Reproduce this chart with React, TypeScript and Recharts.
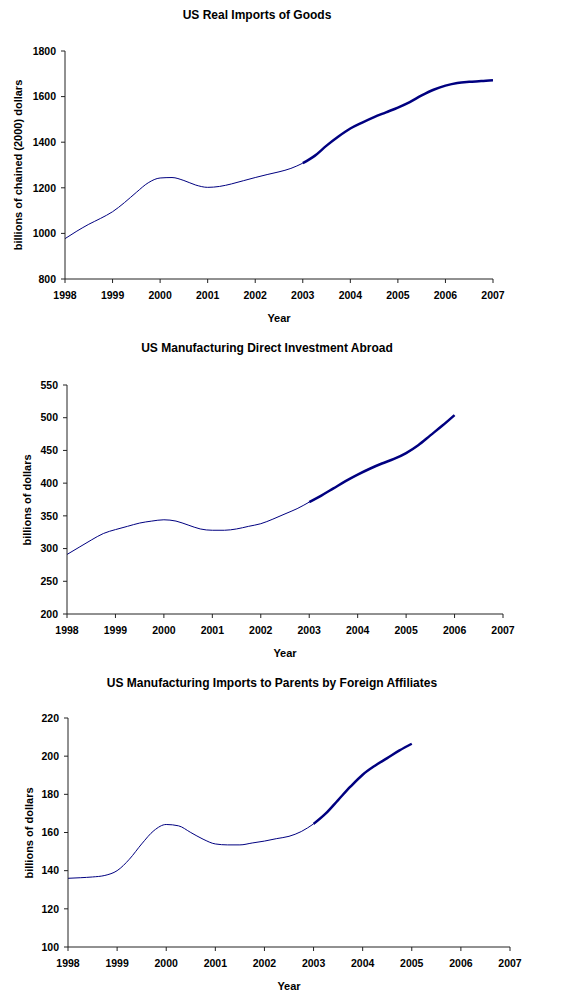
import { LineChart, Line, XAxis, YAxis } from "recharts";

// quarterly points, 1998.0 .. 2007.0
const quarters = [
  1998, 1998.25, 1998.5, 1998.75, 1999, 1999.25, 1999.5, 1999.75,
  2000, 2000.25, 2000.5, 2000.75, 2001, 2001.25, 2001.5, 2001.75,
  2002, 2002.25, 2002.5, 2002.75, 2003, 2003.25, 2003.5, 2003.75,
  2004, 2004.25, 2004.5, 2004.75, 2005, 2005.25, 2005.5, 2005.75,
  2006, 2006.25, 2006.5, 2006.75, 2007,
];

const years = [1998, 1999, 2000, 2001, 2002, 2003, 2004, 2005, 2006, 2007];

const realImports = [
  977, 1010, 1040, 1066, 1095, 1135, 1180, 1222,
  1243, 1245, 1232, 1212, 1202, 1206, 1217, 1231,
  1245, 1258, 1270, 1285, 1308, 1340, 1385, 1425,
  1460, 1486, 1510, 1531, 1552, 1576, 1605, 1630,
  1648, 1660, 1665, 1668, 1672,
];

const directInvestment = [
  291, 302, 313, 323, 329, 334, 339, 342,
  344, 342, 336, 330, 328, 328, 330, 334,
  338, 345, 353, 361, 371, 381, 392, 403,
  413, 422, 430, 437, 446, 458, 473, 488,
  504,
];

const affiliateImports = [
  136, 136.3, 136.7, 137.5, 140, 146, 154, 161,
  164.2, 163.5, 160, 156.5, 154, 153.5, 153.5, 154.5,
  155.5, 156.8, 158, 160.5, 164.5, 170, 177, 184,
  190.3, 195, 199, 203, 206.5,
];

const importTicks = [800, 1000, 1200, 1400, 1600, 1800];
const investmentTicks = [200, 250, 300, 350, 400, 450, 500, 550];
const affiliateTicks = [100, 120, 140, 160, 180, 200, 220];

const SPLIT = 2003;

function buildRows(values: number[]) {
  return values.map((v, i) => {
    const q = quarters[i];
    return {
      q,
      early: q <= SPLIT ? v : null,
      late: q >= SPLIT ? v : null,
    };
  });
}

const FONT = "'Liberation Sans', Arial, sans-serif";
const NAVY = "#000080";
const AXIS = "#222";

type PanelProps = {
  top: number;
  height: number;
  title: string;
  titleX: number;
  titleY: number;
  yLabel: string;
  yLabelX: number;
  values: number[];
  yTicks: number[];
  plotTop: number;
  plotBottom: number;
  plotLeft: number;
  plotRight: number;
  yearY: number;
};

function Panel(p: PanelProps) {
  const data = buildRows(p.values);
  const yAxisWidth = 50;
  const xAxisHeight = 30;
  const plotMid = (p.plotTop + p.plotBottom) / 2;
  const tickStyle = { fill: "#000", fontSize: 10.5, fontWeight: 700, fontFamily: FONT };
  return (
    <div style={{ position: "absolute", left: 0, top: p.top, width: 567, height: p.height }}>
      <div
        style={{
          position: "absolute",
          left: p.titleX - 250,
          width: 500,
          top: p.titleY - 8,
          textAlign: "center",
          fontFamily: FONT,
          fontWeight: 700,
          fontSize: 12,
          lineHeight: "16px",
        }}
      >
        {p.title}
      </div>
      <div
        style={{
          position: "absolute",
          left: p.yLabelX - 150,
          top: plotMid - 8,
          width: 300,
          textAlign: "center",
          transform: "rotate(-90deg)",
          fontFamily: FONT,
          fontWeight: 700,
          fontSize: 11,
          lineHeight: "16px",
        }}
      >
        {p.yLabel}
      </div>
      <div
        style={{
          position: "absolute",
          left: (p.plotLeft + p.plotRight) / 2 - 50,
          width: 100,
          top: p.yearY - 8,
          textAlign: "center",
          fontFamily: FONT,
          fontWeight: 700,
          fontSize: 11,
          lineHeight: "16px",
        }}
      >
        Year
      </div>
      <div style={{ position: "absolute", left: 0, top: 0 }}>
        <LineChart
          width={567}
          height={p.height}
          data={data}
          margin={{
            top: p.plotTop,
            bottom: p.height - p.plotBottom - xAxisHeight,
            left: p.plotLeft - yAxisWidth,
            right: 567 - p.plotRight,
          }}
        >
          <XAxis
            dataKey="q"
            type="number"
            domain={[1998, 2007]}
            ticks={years}
            allowDataOverflow
            interval={0}
            height={xAxisHeight}
            tickSize={4}
            tickMargin={9}
            stroke={AXIS}
            tick={tickStyle}
          />
          <YAxis
            type="number"
            width={yAxisWidth}
            domain={[p.yTicks[0], p.yTicks[p.yTicks.length - 1]]}
            ticks={p.yTicks}
            interval={0}
            tickSize={4}
            tickMargin={5}
            stroke={AXIS}
            tick={tickStyle}
          />
          <Line
            dataKey="early"
            type="monotone"
            stroke={NAVY}
            strokeWidth={1}
            dot={false}
            connectNulls={false}
            isAnimationActive={false}
          />
          <Line
            dataKey="late"
            type="monotone"
            stroke={NAVY}
            strokeWidth={2.5}
            dot={false}
            connectNulls={false}
            isAnimationActive={false}
          />
        </LineChart>
      </div>
    </div>
  );
}

export default function App() {
  return (
    <div style={{ position: "absolute", left: 0, top: 0, width: 567, height: 995, background: "#fff" }}>
      <Panel
        top={0}
        height={330}
        title="US Real Imports of Goods"
        titleX={257}
        titleY={15}
        yLabel="billions of chained (2000) dollars"
        yLabelX={18}
        values={realImports}
        yTicks={importTicks}
        plotTop={51}
        plotBottom={279}
        plotLeft={65}
        plotRight={493}
        yearY={318}
      />
      <Panel
        top={330}
        height={330}
        title="US Manufacturing Direct Investment Abroad"
        titleX={267}
        titleY={18}
        yLabel="billions of dollars"
        yLabelX={27}
        values={directInvestment}
        yTicks={investmentTicks}
        plotTop={55}
        plotBottom={284}
        plotLeft={67}
        plotRight={503}
        yearY={323}
      />
      <Panel
        top={660}
        height={335}
        title="US Manufacturing Imports to Parents by Foreign Affiliates"
        titleX={272}
        titleY={23}
        yLabel="billions of dollars"
        yLabelX={29}
        values={affiliateImports}
        yTicks={affiliateTicks}
        plotTop={58}
        plotBottom={287}
        plotLeft={68}
        plotRight={510}
        yearY={326}
      />
    </div>
  );
}
